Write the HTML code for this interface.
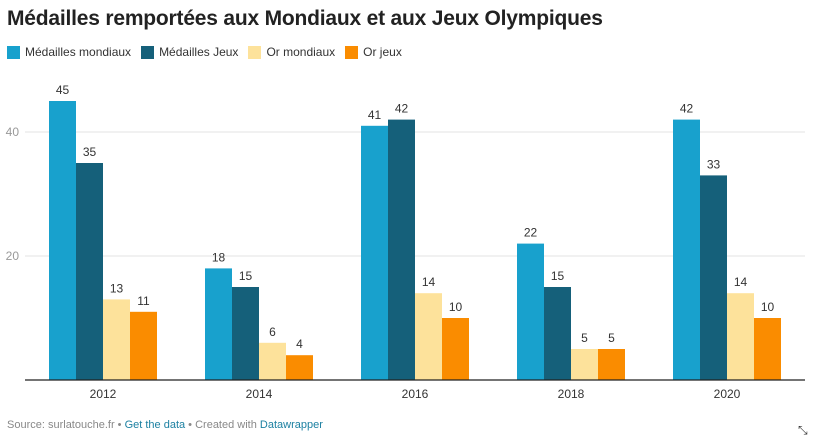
<!DOCTYPE html>
<html><head><meta charset="utf-8"><style>
body{margin:0;width:816px;height:441px;background:#fff;font-family:"Liberation Sans",Roboto,sans-serif;overflow:hidden;position:relative}
h1{position:absolute;left:7px;top:7px;margin:0;font-size:21px;font-weight:bold;color:#222;letter-spacing:-0.2px}
.legend{position:absolute;left:7px;top:45px;font-size:12px;color:#333;display:flex}
.li{display:flex;align-items:center;margin-right:10px}
.sw{width:13px;height:13px;margin-right:5px}
.foot{position:absolute;left:7px;top:419px;font-size:11px;color:#888}
.foot a{color:#1d81a2;text-decoration:none}
</style></head><body>
<h1>Médailles remportées aux Mondiaux et aux Jeux Olympiques</h1>
<div class="legend">
<div class="li"><div class="sw" style="background:#18a1cd"></div>Médailles mondiaux</div>
<div class="li"><div class="sw" style="background:#15607a"></div>Médailles Jeux</div>
<div class="li"><div class="sw" style="background:#fde29b"></div>Or mondiaux</div>
<div class="li"><div class="sw" style="background:#fa8c00"></div>Or jeux</div>
</div>
<svg id="chart" width="816" height="441" style="position:absolute;left:0;top:0"></svg>
<div class="foot">Source: surlatouche.fr • <a>Get the data</a> • Created with <a>Datawrapper</a></div>
<div style="position:absolute;left:798px;top:423px;font-size:12px;color:#333">⤡</div>
<script>
const categories=["2012","2014","2016","2018","2020"];
const medaillesMondiaux=[45,18,41,22,42];
const medaillesJeux=[35,15,42,15,33];
const orMondiaux=[13,6,14,5,14];
const orJeux=[11,4,10,5,10];
const yTicks=[20,40];
const series=[medaillesMondiaux,medaillesJeux,orMondiaux,orJeux];
const colors=["#18a1cd","#15607a","#fde29b","#fa8c00"];
const names=["medailles-mondiaux","medailles-jeux","or-mondiaux","or-jeux"];
const svg=document.getElementById('chart');
const NS="http://www.w3.org/2000/svg";
const x0=25,x1=805,base=380,ppu=6.2,bw=27;
const band=(x1-x0)/categories.length;
const y=v=>base-v*ppu;
function mk(t,a){const e=document.createElementNS(NS,t);for(const k in a)e.setAttribute(k,a[k]);svg.appendChild(e);return e;}
yTicks.forEach(t=>{
 const l=mk('line',{x1:x0,x2:x1,y1:y(t),y2:y(t),stroke:'#e3e3e3','stroke-width':1});
 
 
 const tx=mk('text',{x:19,y:y(t)+4,'text-anchor':'end','font-size':12,fill:'#999','font-family':'Liberation Sans,sans-serif'});
 tx.textContent=t;
 
 
});
categories.forEach((c,i)=>{
 const gs=x0+band*i+(band-bw*4)/2;
 series.forEach((s,j)=>{
  const v=s[i],bx=gs+j*bw;
  const r=mk('rect',{x:bx,y:y(v),width:bw,height:v*ppu,fill:colors[j]});
  
  
  const t=mk('text',{x:bx+bw/2,y:y(v)-7,'text-anchor':'middle','font-size':12,fill:'#333','font-family':'Liberation Sans,sans-serif'});
  t.textContent=v;
  
  
 });
 const t=mk('text',{x:x0+band*i+band/2,y:base+18,'text-anchor':'middle','font-size':12,fill:'#333','font-family':'Liberation Sans,sans-serif'});
 t.textContent=c;
 
 
});
const ax=mk('line',{x1:x0,x2:x1,y1:base,y2:base,stroke:'#222','stroke-width':1.3});


</script>
</body></html>
